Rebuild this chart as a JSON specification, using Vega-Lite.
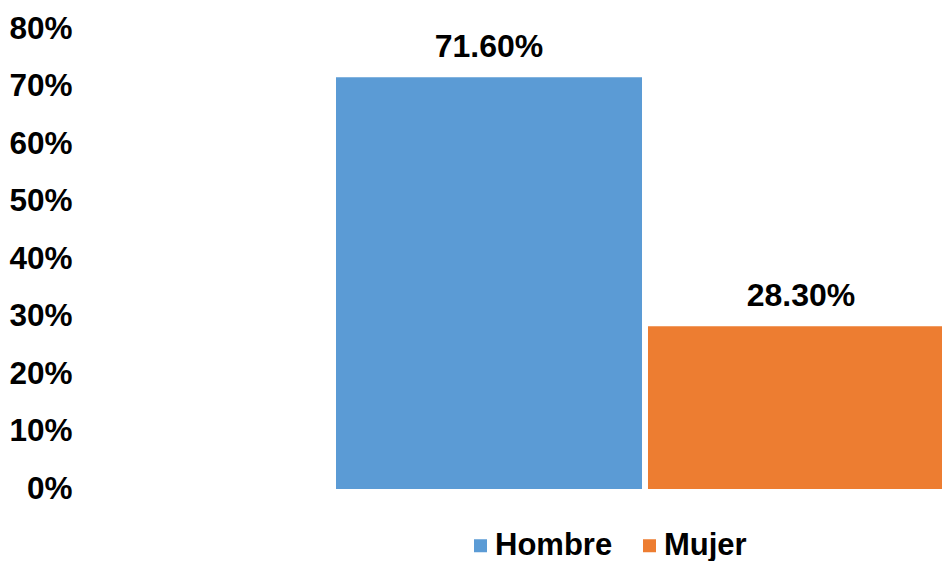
{
  "$schema": "https://vega.github.io/schema/vega-lite/v6.json",
  "autosize": {"type": "none"},
  "width": 857,
  "height": 460,
  "padding": {"left": 85, "top": 29, "right": 0, "bottom": 72},
  "background": "white",
  "config": {
    "view": {"stroke": null},
    "font": "Liberation Sans"
  },
  "data": {
    "values": [
      {"sexo": "Hombre", "pct": 0.716},
      {"sexo": "Mujer", "pct": 0.283}
    ]
  },
  "encoding": {
    "x": {
      "field": "sexo",
      "type": "nominal",
      "scale": {"domain": ["Hombre", "Mujer"], "range": [251, 869], "paddingInner": 0.0192, "paddingOuter": 0},
      "axis": null
    },
    "y": {
      "field": "pct",
      "type": "quantitative",
      "scale": {"domain": [0, 0.8], "nice": false},
      "axis": {
        "values": [0, 0.1, 0.2, 0.3, 0.4, 0.5, 0.6, 0.7, 0.8],
        "format": ".0%",
        "title": null,
        "domain": false,
        "ticks": false,
        "grid": false,
        "labelFont": "Liberation Sans",
        "labelFontSize": 31.5,
        "labelFontWeight": "bold",
        "labelColor": "#000000",
        "labelPadding": 13
      }
    }
  },
  "layer": [
    {
      "mark": {"type": "bar", "clip": true},
      "encoding": {
        "color": {
          "field": "sexo",
          "type": "nominal",
          "scale": {"domain": ["Hombre", "Mujer"], "range": ["#5B9BD5", "#ED7D31"]},
          "legend": {
            "title": null,
            "orient": "none",
            "direction": "horizontal",
            "legendX": 380,
            "legendY": 501,
            "symbolType": "square",
            "symbolSize": 169,
            "symbolStrokeWidth": 0,
            "labelFont": "Liberation Sans",
            "labelFontSize": 31,
            "labelFontWeight": "bold",
            "labelColor": "#000000",
            "labelOffset": -1,
            "columnPadding": 21,
            "padding": 0
          }
        }
      }
    },
    {
      "mark": {
        "type": "text",
        "baseline": "alphabetic",
        "dy": -20,
        "font": "Liberation Sans",
        "fontSize": 32,
        "fontWeight": "bold",
        "color": "#000000"
      },
      "encoding": {
        "text": {"field": "pct", "type": "quantitative", "format": ".2%"}
      }
    }
  ]
}
